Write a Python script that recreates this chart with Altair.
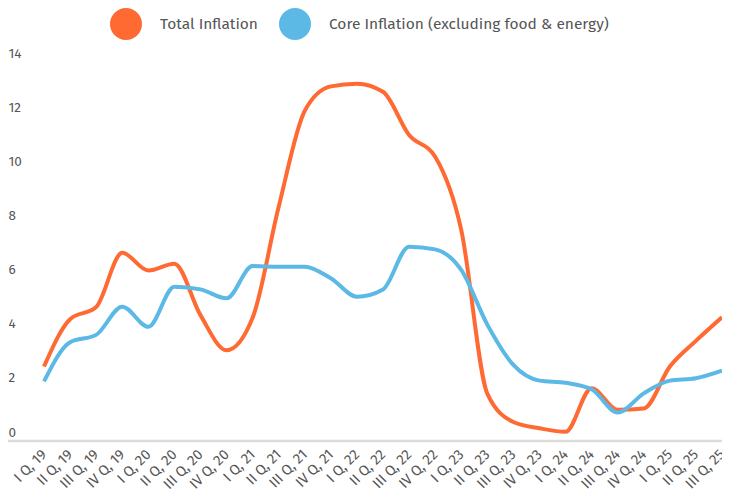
import altair as alt
import pandas as pd

quarters = [
    "I Q, 19", "II Q, 19", "III Q, 19", "IV Q, 19",
    "I Q, 20", "II Q, 20", "III Q, 20", "IV Q, 20",
    "I Q, 21", "II Q, 21", "III Q, 21", "IV Q, 21",
    "I Q, 22", "II Q, 22", "III Q, 22", "IV Q, 22",
    "I Q, 23", "II Q, 23", "III Q, 23", "IV Q, 23",
    "I Q, 24", "II Q, 24", "III Q, 24", "IV Q, 24",
    "I Q, 25", "II Q, 25", "III Q, 25",
]
total_inflation = [2.75, 4.5, 4.95, 6.95, 6.3, 6.55, 4.65, 3.35, 4.55, 8.65,
                   12.2, 13.1, 13.2, 12.9, 11.3, 10.5, 7.8, 1.75, 0.7, 0.47,
                   0.34, 1.95, 1.15, 1.2, 2.75, 3.7, 4.57]
core_inflation = [2.2, 3.65, 3.92, 4.96, 4.22, 5.7, 5.6, 5.27, 6.46, 6.44,
                  6.44, 6.01, 5.33, 5.6, 7.18, 7.08, 6.32, 4.3, 2.81, 2.23,
                  2.15, 1.91, 1.05, 1.76, 2.23, 2.32, 2.6]
series_names = ["Total Inflation", "Core Inflation (excluding food & energy)"]
series_colors = ["#FF6A33", "#5CB8E5"]
y_ticks = [0, 2, 4, 6, 8, 10, 12, 14]

rows = []
for q, t, c in zip(quarters, total_inflation, core_inflation):
    rows.append({"quarter": q, "series": series_names[0], "value": t})
    rows.append({"quarter": q, "series": series_names[1], "value": c})
df = pd.DataFrame(rows)

FONT = "Fira Sans, Open Sans, sans-serif"
TXT = "#555555"
W, H = 678, 379

baseline = alt.Chart(pd.DataFrame({"a": [0]})).mark_rule(
    color="#dcdcdc", strokeWidth=2.5
).encode(x=alt.value(-39), x2=alt.value(W), y=alt.value(H))

lines = alt.Chart(df).mark_line(strokeWidth=4, interpolate="monotone").encode(
    x=alt.X("quarter:N", sort=quarters, title=None,
            scale=alt.Scale(type="point", padding=0),
            axis=alt.Axis(domain=False, ticks=False, grid=False, labelAngle=-45,
                          labelAlign="right", labelBaseline="middle",
                          labelPadding=11, labelFont=FONT, labelFontSize=14.5,
                          labelColor=TXT, labelOverlap=False)),
    y=alt.Y("value:Q", title=None,
            scale=alt.Scale(domain=[0, 14], nice=False, zero=True),
            axis=alt.Axis(values=y_ticks, domain=False, ticks=False, grid=False,
                          labelAlign="left", labelPadding=36,
                          labelBaseline="alphabetic", labelOffset=-5,
                          labelFont=FONT, labelFontSize=13.5, labelColor=TXT)),
    color=alt.Color("series:N", title=None,
                    scale=alt.Scale(domain=series_names, range=series_colors),
                    legend=alt.Legend(orient="none", legendX=66, legendY=-54,
                                      direction="horizontal", symbolType="circle",
                                      symbolSize=256, symbolStrokeWidth=16,
                                      symbolOpacity=1, labelFont=FONT,
                                      labelFontSize=15.5, labelColor=TXT,
                                      labelOffset=18, columnPadding=-3,
                                      padding=0, labelLimit=400)),
    order=alt.Order("series:N"),
)

chart = alt.layer(baseline, lines).properties(
    width=W, height=H,
    autosize=alt.AutoSizeParams(type="none"),
    padding={"left": 36, "top": 54, "right": 0, "bottom": 48},
).configure_view(stroke=None)

chart.save("out.html", embed_options={"renderer": "svg", "actions": False})
